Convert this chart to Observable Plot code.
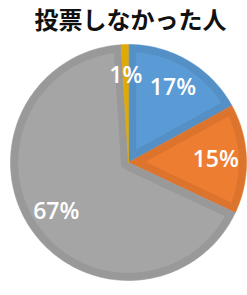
<!DOCTYPE html>
<html><head><meta charset="utf-8">
<script src="https://cdn.jsdelivr.net/npm/d3@7"></script>
<script src="https://cdn.jsdelivr.net/npm/@observablehq/plot@0.6"></script>
<style>
html,body{margin:0;padding:0;background:#fff;}
#title{width:247px;height:38px;line-height:38px;text-align:center;font-family:"Noto Sans CJK JP",sans-serif;font-weight:700;font-size:24px;color:#111;padding-left:14px;box-sizing:border-box;letter-spacing:0px;}
</style></head>
<body>
<div id="title">投票しなかった人</div>
<div id="chart"></div>
<script>
const categories = ["区分A", "区分B", "区分C", "区分D"];
const values = [17, 15, 67, 1];
const labels = ["17%", "15%", "67%", "1%"];

const arcs = d3.pie().sort(null).value(d => d)(values).map((a, i) => ({...a, name: categories[i], label: labels[i]}));
const u = (a, r) => [r * Math.sin(a), r * Math.cos(a)];
function arcPts(r, a0, a1) {
  const n = Math.max(2, Math.ceil(Math.abs(a1 - a0) / 0.02));
  return d3.range(n + 1).map(k => u(a0 + (a1 - a0) * k / n, r));
}
const D = 0.065;
const outer = [], inner = [];
for (const s of arcs) {
  const a0 = s.startAngle, a1 = s.endAngle, th = a1 - a0;
  outer.push(...[[0, 0], ...arcPts(1, a0, a1)].map(([x, y]) => ({name: s.name, x, y})));
  const R = 1 - D;
  let pts = null;
  if (th < Math.PI) {
    const ap = D / Math.sin(th / 2);
    if (ap < R * 0.8) {
      const da = Math.asin(D / R);
      pts = [u((a0 + a1) / 2, ap), ...arcPts(R, a0 + da, a1 - da)];
    }
  } else {
    const da = Math.asin(D / R);
    pts = [...arcPts(R, a0 + da, a1 - da), ...arcPts(D, a1 - Math.PI / 2, a0 + Math.PI / 2)];
  }
  if (pts) inner.push(...pts.map(([x, y]) => ({name: s.name, x, y})));
}

const R0 = 118;
const plot = Plot.plot({
  width: 247, height: 257,
  margin: 0,
  x: {domain: [-1, 1], range: [128 - R0, 128 + R0], axis: null},
  y: {domain: [-1, 1], range: [124 + R0, 124 - R0], axis: null},
  color: {domain: categories, range: ["#5b9bd5", "#ed7d31", "#a5a5a5", "#f2b705"]},
  marks: [
    Plot.line(outer, {x: "x", y: "y", z: "name", fill: "name", stroke: "name", strokeWidth: 0.6, curve: "linear-closed"}),
    Plot.line(outer, {x: "x", y: "y", z: "name", fill: "black", fillOpacity: 0.07, stroke: "none", curve: "linear-closed"}),
    Plot.line(inner, {x: "x", y: "y", z: "name", fill: "name", stroke: "none", curve: "linear-closed"}),
    Plot.text(arcs, {
      x: d => 0.74 * Math.sin((d.startAngle + d.endAngle) / 2),
      y: d => 0.74 * Math.cos((d.startAngle + d.endAngle) / 2),
      text: "label", fill: "white", fontSize: 23, fontWeight: 600,
      fontFamily: "'Open Sans', sans-serif"
    })
  ]
});
document.getElementById("chart").appendChild(plot);
</script>
</body></html>
